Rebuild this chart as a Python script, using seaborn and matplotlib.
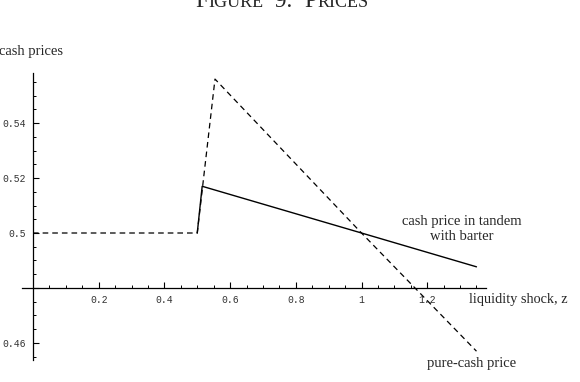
import matplotlib
matplotlib.use("Agg")
import matplotlib.pyplot as plt
import seaborn as sns
import numpy as np
import pandas as pd

# ---- data ----
z_pure = [0.0, 0.5, 0.554, 1.0, 1.35]
p_pure = [0.5, 0.5, 0.556, 0.5, 0.457]
z_tandem = [0.5, 0.515, 1.0, 1.35]
p_tandem = [0.5, 0.517, 0.5, 0.4877]

x_major = [0.2, 0.4, 0.6, 0.8, 1.0, 1.2]
x_labels = ["0.2", "0.4", "0.6", "0.8", "1", "1.2"]
y_major = [0.46, 0.48, 0.50, 0.52, 0.54]
y_labels = ["0.46", "", "0.5", "0.52", "0.54"]

sns.set_style("white")
plt.rcParams["font.family"] = ["Liberation Serif", "DejaVu Serif"]

fig = plt.figure(figsize=(5.8, 3.82), dpi=100)
ax = fig.add_axes([22 / 580, 1 - 360 / 382, (486 - 22) / 580, (360 - 73.3) / 382])

df_pure = pd.DataFrame({"z": z_pure, "p": p_pure})
df_tan = pd.DataFrame({"z": z_tandem, "p": p_tandem})
sns.lineplot(data=df_pure, x="z", y="p", ax=ax, color="black", lw=0.9,
             sort=False, estimator=None)
ax.lines[-1].set_dashes([4.5, 3.2])
sns.lineplot(data=df_tan, x="z", y="p", ax=ax, color="black", lw=1.0,
             sort=False, estimator=None)

ax.set_xlim(-0.0335, 1.379)
ax.set_ylim(0.4538, 0.5581)
ax.set_xlabel("")
ax.set_ylabel("")

for s in ["top", "right"]:
    ax.spines[s].set_visible(False)
ax.spines["left"].set_position(("data", 0))
ax.spines["bottom"].set_position(("data", 0.48))
for s in ["left", "bottom"]:
    ax.spines[s].set_color("black")
    ax.spines[s].set_linewidth(0.9)

ax.set_xticks(x_major)
ax.set_xticklabels(x_labels)
ax.set_xticks(np.round(np.arange(0.05, 1.36, 0.05), 3), minor=True)
ax.set_yticks(y_major)
ax.set_yticklabels(y_labels)
ax.set_yticks(np.round(np.arange(0.455, 0.556, 0.005), 4), minor=True)

ax.tick_params(axis="both", which="both", bottom=True, left=True, top=False, right=False)
ax.tick_params(axis="both", which="major", direction="in", length=4, width=0.8,
               color="black", labelsize=7, labelcolor="#333333")
ax.tick_params(axis="both", which="minor", direction="in", length=2.5, width=0.7,
               color="black")
ax.tick_params(axis="x", which="major", pad=5)
ax.tick_params(axis="y", which="major", pad=5)
for lab in ax.get_xticklabels() + ax.get_yticklabels():
    lab.set_family(["Liberation Mono", "DejaVu Sans Mono"])
ax.grid(False)

def px(xp, yp):
    return xp / 580, 1 - yp / 382

fig.text(*px(-1, 52), "cash prices", fontsize=10.5, ha="left", va="center")
fig.text(*px(469, 299), "liquidity shock, z", fontsize=10.3, ha="left", va="center")
fig.text(*px(462, 229), "cash price in tandem\nwith barter", fontsize=10.5,
         ha="center", va="center", linespacing=1.2)
fig.text(*px(472, 363), "pure-cash price", fontsize=10.5, ha="center", va="center")

# small-caps title, mostly cut off at the top
pieces = [("F", 17), ("IGURE", 13), ("  9.  ", 17), ("P", 17), ("RICES", 13)]
renderer = fig.canvas.get_renderer()
xcur = 195
ybase = 1 - 7 / 382
for txt, fs in pieces:
    t = fig.text(xcur / 580, ybase, txt, fontsize=fs, ha="left", va="baseline")
    bb = t.get_window_extent(renderer=renderer)
    xcur += bb.width

fig.savefig("out.png", dpi=100)
